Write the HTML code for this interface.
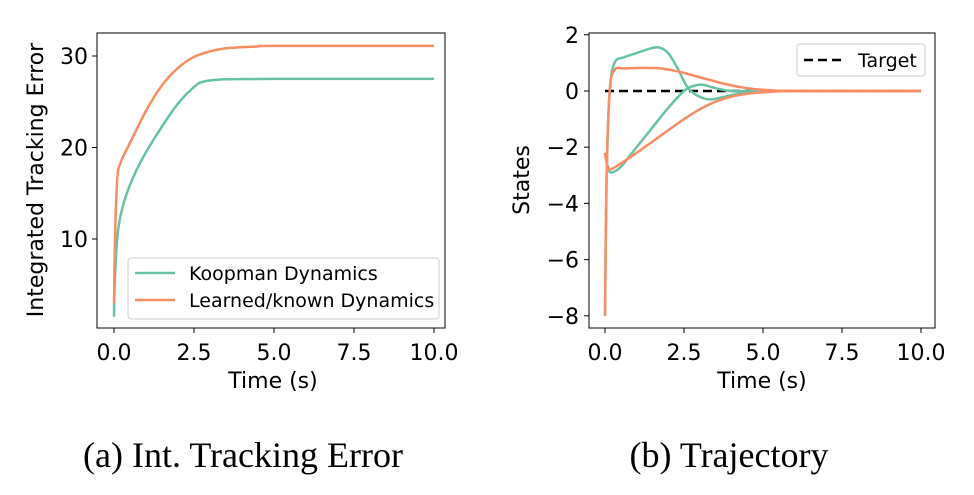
<!DOCTYPE html>
<html><head><meta charset="utf-8">
<style>
body{margin:0;background:#fff;width:974px;height:490px;overflow:hidden}
svg text{font-family:"DejaVu Sans","Liberation Sans",sans-serif;fill:#000}
.cap{font-family:"Liberation Serif",serif;font-size:36px}
</style></head><body>
<svg id="s" width="974" height="490" xmlns="http://www.w3.org/2000/svg"></svg>
<script>
// ---- data: chart (a)
const tA_k=[0,0.02,0.1,0.2,0.4,0.7,1.0,1.5,2.0,2.5,2.8,3.5,5,10];
const yA_k=[1.5,5,10,12.5,15,17.5,19.5,22.3,24.8,26.6,27.2,27.45,27.5,27.5];
const tA_l=[0,0.03,0.1,0.2,0.5,1.0,1.5,2,2.5,3,3.5,4.5,5,10];
const yA_l=[3,10,16.5,18.3,20.5,24,26.8,28.7,29.9,30.5,30.85,31.05,31.1,31.1];
const xTicksA=[0,2.5,5,7.5,10], xTickLabels=["0.0","2.5","5.0","7.5","10.0"];
const yTicksA=[10,20,30];
// ---- data: chart (b)
const tB_k1=[0,0.05,0.15,0.3,0.6,1.0,1.4,1.7,2.0,2.3,2.6,2.9,3.3,3.8,4.5,5.5,10];
const yB_k1=[-8,-3,0,1.0,1.2,1.35,1.5,1.55,1.35,0.8,0.15,-0.15,-0.3,-0.2,-0.05,0,0];
const tB_k2=[0,0.1,0.2,0.5,1.0,1.5,2.0,2.5,2.8,3.1,3.5,4.0,5,10];
const yB_k2=[-2.2,-2.75,-2.9,-2.7,-2.0,-1.3,-0.6,0,0.18,0.22,0.1,0,0,0];
const tB_l1=[0,0.05,0.15,0.3,0.6,1.0,1.5,1.8,2.3,2.8,3.3,3.8,4.5,5.2,6,10];
const yB_l1=[-8,-3,0,0.75,0.8,0.82,0.82,0.8,0.7,0.55,0.4,0.25,0.1,0.03,0,0];
const tB_l2=[0,0.07,0.15,0.4,1.0,1.5,2.0,2.5,3.0,3.5,4.0,4.5,5,6,10];
const yB_l2=[-2.2,-2.65,-2.8,-2.65,-2.2,-1.8,-1.4,-1.0,-0.65,-0.38,-0.2,-0.1,-0.05,0,0];
const yTicksB=[2,0,-2,-4,-6,-8], yTickLabelsB=["2","0","\u22122","\u22124","\u22126","\u22128"];
const GREEN="#66c2a5", ORANGE="#fc8d62";
const NS="http://www.w3.org/2000/svg", S=document.getElementById('s');
function el(tag,attrs,parent,text){const e=document.createElementNS(NS,tag);for(const k in attrs)e.setAttribute(k,attrs[k]);if(text!==undefined)e.textContent=text;(parent||S).appendChild(e);return e;}
function path(xs,ys,fx,fy){const P=xs.map((x,i)=>[fx(x),fy(ys[i])]);
 let d="M"+P[0][0]+","+P[0][1];
 for(let i=0;i<P.length-1;i++){const p0=P[i-1]||P[i],p1=P[i],p2=P[i+1],p3=P[i+2]||p2;
  const c1=[p1[0]+(p2[0]-p0[0])/6,p1[1]+(p2[1]-p0[1])/6],c2=[p2[0]-(p3[0]-p1[0])/6,p2[1]-(p3[1]-p1[1])/6];
  d+=` C${c1[0].toFixed(1)},${c1[1].toFixed(1)} ${c2[0].toFixed(1)},${c2[1].toFixed(1)} ${p2[0].toFixed(1)},${p2[1].toFixed(1)}`;}
 return d;}
const FS=22;
// chart A
const xA=v=>114+v*32, yA=v=>56-(v-30)*9.15;
const gA=el('g',{});
let l=el('path',{d:path(tA_k,yA_k,xA,yA),fill:'none',stroke:GREEN,'stroke-width':2.5},gA);
l=el('path',{d:path(tA_l,yA_l,xA,yA),fill:'none',stroke:ORANGE,'stroke-width':2.5},gA);
el('rect',{x:97,y:33,width:348,height:295,fill:'none',stroke:'#000','stroke-width':1},gA);
xTicksA.forEach((v,i)=>{el('line',{x1:xA(v),x2:xA(v),y1:328,y2:333,stroke:'#000'},gA);const t=el('text',{x:xA(v),y:360,'font-size':FS,'text-anchor':'middle'},gA,xTickLabels[i]);});
yTicksA.forEach(v=>{el('line',{x1:92,x2:97,y1:yA(v),y2:yA(v),stroke:'#000'},gA);const t=el('text',{x:88,y:yA(v)+8,'font-size':FS,'text-anchor':'end'},gA,String(v));});
let t=el('text',{x:273,y:388,'font-size':FS,'text-anchor':'middle'},gA,'Time (s)');
t=el('text',{x:0,y:0,'font-size':FS,'text-anchor':'middle',transform:'translate(43,180) rotate(-90)'},gA,'Integrated Tracking Error');
const lg=el('g',{},gA);
el('rect',{x:128,y:258,width:311,height:61,rx:3,fill:'#fff',stroke:'#ccc'},lg);
el('line',{x1:135,x2:175,y1:273,y2:273,stroke:GREEN,'stroke-width':2.5},lg);
el('line',{x1:135,x2:175,y1:300,y2:300,stroke:ORANGE,'stroke-width':2.5},lg);
el('text',{x:189,y:280,'font-size':19},lg,'Koopman Dynamics');
el('text',{x:189,y:307,'font-size':19},lg,'Learned/known Dynamics');
// chart B
const xB=v=>605+v*31.6, yB=v=>91-v*28.1;
const gB=el('g',{});
l=el('line',{x1:xB(0),x2:xB(10),y1:yB(0),y2:yB(0),stroke:'#000','stroke-width':2.5,'stroke-dasharray':'9,5'},gB);
[[tB_k1,yB_k1,GREEN,'koopman-traj-1'],[tB_k2,yB_k2,GREEN,'koopman-traj-2'],[tB_l1,yB_l1,ORANGE,'learned-traj-1'],[tB_l2,yB_l2,ORANGE,'learned-traj-2']].forEach(a=>{
 const p=el('path',{d:path(a[0],a[1],xB,yB),fill:'none',stroke:a[2],'stroke-width':2.5},gB);
 
 });
el('rect',{x:589,y:33,width:346,height:295,fill:'none',stroke:'#000','stroke-width':1},gB);
xTicksA.forEach((v,i)=>{el('line',{x1:xB(v),x2:xB(v),y1:328,y2:333,stroke:'#000'},gB);const t=el('text',{x:xB(v),y:360,'font-size':FS,'text-anchor':'middle'},gB,xTickLabels[i]);});
yTicksB.forEach((v,i)=>{el('line',{x1:584,x2:589,y1:yB(v),y2:yB(v),stroke:'#000'},gB);const t=el('text',{x:579,y:yB(v)+8,'font-size':FS,'text-anchor':'end'},gB,yTickLabelsB[i]);});
t=el('text',{x:762,y:388,'font-size':FS,'text-anchor':'middle'},gB,'Time (s)');
t=el('text',{x:0,y:0,'font-size':FS,'text-anchor':'middle',transform:'translate(529,180) rotate(-90)'},gB,'States');
const lg2=el('g',{},gB);
el('rect',{x:797,y:44,width:128,height:32,rx:3,fill:'#fff',stroke:'#ccc'},lg2);
el('line',{x1:804,x2:844,y1:60,y2:60,stroke:'#000','stroke-width':2.5,'stroke-dasharray':'9,5'},lg2);
el('text',{x:858,y:67,'font-size':19},lg2,'Target');
// captions
t=el('text',{x:243,y:467,'text-anchor':'middle',class:'cap'},S,'(a) Int. Tracking Error');
t=el('text',{x:729,y:467,'text-anchor':'middle',class:'cap'},S,'(b) Trajectory');
</script>
</body></html>
